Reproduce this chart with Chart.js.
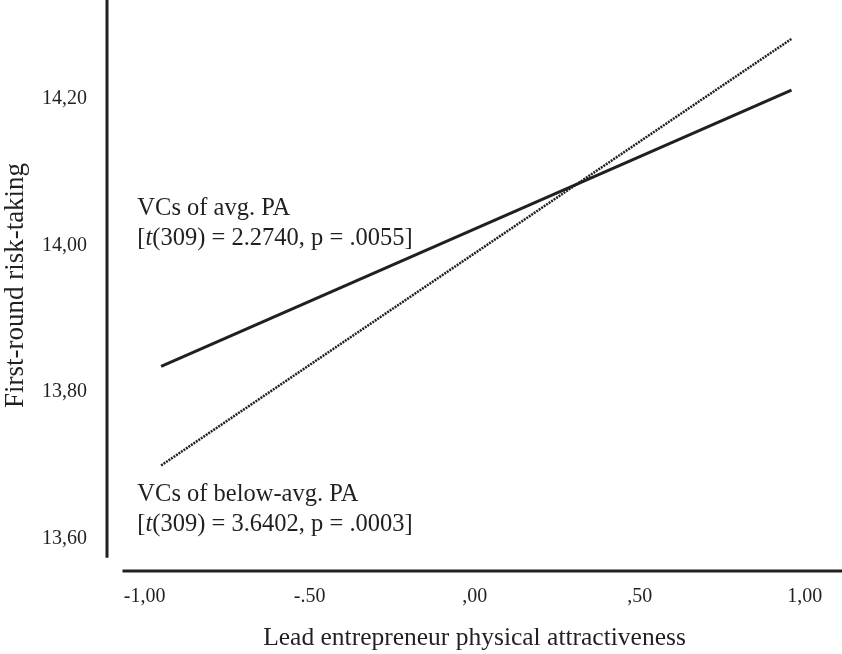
<!DOCTYPE html>
<html>
<head>
<meta charset="utf-8">
<title>First-round risk-taking</title>
<script src="https://cdn.jsdelivr.net/npm/chart.js@4.4.0/dist/chart.umd.min.js"></script>
<style>
  html, body { margin: 0; padding: 0; background: #fff; }
  #wrap { width: 842px; height: 654px; }
</style>
</head>
<body>
<div id="wrap"><canvas id="chart" width="842" height="654"></canvas></div>
<script>
// values
const xValues = [-0.95, 0.96];
const avgPA = [13.835, 14.212];
const belowAvgPA = [13.70, 14.282];

const xTickValues = [-1, -0.5, 0, 0.5, 1];
const xTickLabels = ["-1,00", "-.50", ",00", ",50", "1,00"];
const yTickValues = [13.6, 13.8, 14.0, 14.2];
const yTickLabels = ["13,60", "13,80", "14,00", "14,20"];

const ink = "#231f20";
const serif = "'Liberation Serif', 'Times New Roman', serif";

// draws the two detached axis lines and the text notes next to the lines
const axesAndNotes = {
  id: "axesAndNotes",
  afterDraw(chart) {
    const ctx = chart.ctx;
    const x = chart.scales.x;
    const y = chart.scales.y;
    const area = chart.chartArea;

    ctx.save();
    ctx.strokeStyle = ink;
    ctx.lineWidth = 3;
    ctx.beginPath();
    ctx.moveTo(area.left, 0);
    ctx.lineTo(area.left, y.getPixelForValue(13.574));
    ctx.stroke();
    ctx.beginPath();
    ctx.moveTo(x.getPixelForValue(-1.067), area.bottom);
    ctx.lineTo(chart.width, area.bottom);
    ctx.stroke();

    // notes
    ctx.fillStyle = ink;
    ctx.textBaseline = "middle";
    ctx.textAlign = "left";
    const notes = [
      { x: -1.022, y: 14.051, title: "VCs of avg. PA", stat: "(309) = 2.2740, p = .0055]" },
      { x: -1.022, y: 13.660, title: "VCs of below-avg. PA", stat: "(309) = 3.6402, p = .0003]" }
    ];
    notes.forEach(n => {
      const px = x.getPixelForValue(n.x);
      const py = y.getPixelForValue(n.y);
      ctx.font = "24.5px " + serif;
      ctx.fillText(n.title, px, py);
      let cx = px;
      ctx.fillText("[", cx, py + 30);
      cx += ctx.measureText("[").width;
      ctx.font = "italic 24.5px " + serif;
      ctx.fillText("t", cx, py + 30);
      cx += ctx.measureText("t").width;
      ctx.font = "24.5px " + serif;
      ctx.fillText(n.stat, cx, py + 30);
    });
    ctx.restore();
  }
};

new Chart(document.getElementById("chart"), {
  type: "scatter",
  data: {
    datasets: [
      {
        label: "VCs of avg. PA",
        data: xValues.map((v, i) => ({ x: v, y: avgPA[i] })),
        showLine: true,
        borderColor: ink,
        borderWidth: 3,
        pointRadius: 0
      },
      {
        label: "VCs of below-avg. PA",
        data: xValues.map((v, i) => ({ x: v, y: belowAvgPA[i] })),
        showLine: true,
        borderColor: ink,
        borderWidth: 2.5,
        borderDash: [2, 1],
        pointRadius: 0
      }
    ]
  },
  options: {
    responsive: false,
    animation: false,
    layout: { padding: 0 },
    plugins: {
      legend: { display: false },
      tooltip: { enabled: false }
    },
    scales: {
      x: {
        type: "linear",
        min: -1.114,
        max: 1.113,
        grid: { display: false, drawTicks: false },
        border: { display: false },
        afterBuildTicks: s => { s.ticks = xTickValues.map(v => ({ value: v })); },
        afterFit: s => { s.height = 83; s.paddingLeft = 0; s.paddingRight = 0; },
        ticks: {
          padding: 14,
          color: ink,
          font: { family: serif, size: 20 },
          maxRotation: 0,
          callback: v => xTickLabels[xTickValues.indexOf(v)]
        },
        title: {
          display: true,
          text: "Lead entrepreneur physical attractiveness",
          color: ink,
          font: { family: serif, size: 25.5 },
          padding: 0
        }
      },
      y: {
        type: "linear",
        min: 13.556,
        max: 14.335,
        grid: { display: false, drawTicks: false },
        border: { display: false },
        afterBuildTicks: s => { s.ticks = yTickValues.map(v => ({ value: v })); },
        afterFit: s => { s.width = 107; s.paddingTop = 0; s.paddingBottom = 0; },
        ticks: {
          padding: 20,
          color: ink,
          font: { family: serif, size: 20 },
          callback: v => yTickLabels[yTickValues.indexOf(v)]
        },
        title: {
          display: true,
          text: "First-round risk-taking",
          color: ink,
          font: { family: serif, size: 27 },
          padding: 0
        }
      }
    }
  },
  plugins: [axesAndNotes]
});
</script>
</body>
</html>
